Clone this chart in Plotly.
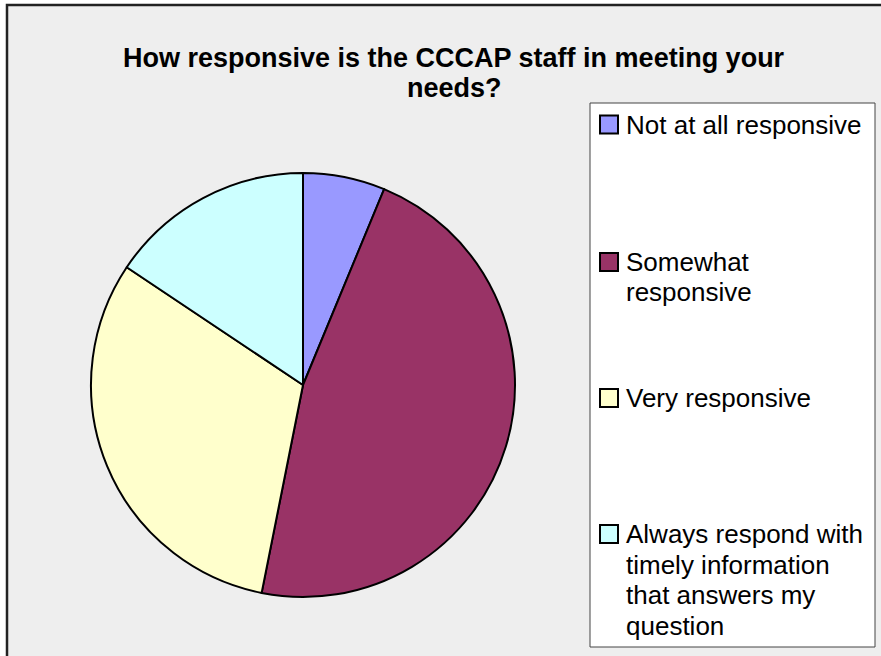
import plotly.graph_objects as go

# ---- data ----
categories = [
    "Not at all responsive",
    "Somewhat responsive",
    "Very responsive",
    "Always respond with timely information that answers my question",
]
counts = [4, 30, 20, 10]
legend_lines = [
    ["Not at all responsive"],
    ["Somewhat", "responsive"],
    ["Very responsive"],
    ["Always respond with", "timely information", "that answers my", "question"],
]
title_lines = ["How responsive is the CCCAP staff in meeting your", "needs?"]

# ---- style ----
slice_colors = ["#9999FF", "#993366", "#FFFFCC", "#CCFFFF"]
W, H = 881, 656
FONT = "Liberation Sans, Arial, sans-serif"


def px(x):
    return x / W


def py(y):
    return 1 - y / H


cx, cy, r = 303, 385, 212

fig = go.Figure(
    go.Pie(
        labels=categories,
        values=counts,
        sort=False,
        direction="clockwise",
        rotation=0,
        marker=dict(colors=slice_colors, line=dict(color="#000000", width=2)),
        textinfo="none",
        hoverinfo="label+percent",
        showlegend=False,
        domain=dict(x=[px(cx - r), px(cx + r)], y=[py(cy + r), py(cy - r)]),
    )
)

shapes = []
# chart area
shapes.append(dict(type="rect", xref="paper", yref="paper", layer="below",
                   x0=px(7), x1=px(W + 20), y0=py(H + 20), y1=py(5),
                   fillcolor="#EEEEEE", line=dict(color="#222222", width=2.5)))
# legend box
shapes.append(dict(type="rect", xref="paper", yref="paper", layer="below",
                   x0=px(590), x1=px(875), y0=py(647), y1=py(103),
                   fillcolor="#FFFFFF", line=dict(color="#444444", width=1)))

annotations = []
# title
for i, t in enumerate(title_lines):
    annotations.append(dict(text="<b>%s</b>" % t, xref="paper", yref="paper",
                            x=px(454), y=py(57.5 + 30 * i), xanchor="center", yanchor="middle",
                            showarrow=False, font=dict(family=FONT, size=27, color="#000000")))

item_first_y = [124.5, 262, 398, 534]
line_gap = 30.5
for k, lines in enumerate(legend_lines):
    y0 = item_first_y[k]
    shapes.append(dict(type="rect", xref="paper", yref="paper",
                       x0=px(600), x1=px(618), y0=py(y0 + 9), y1=py(y0 - 9),
                       fillcolor=slice_colors[k], line=dict(color="#000000", width=2)))
    for j, ln in enumerate(lines):
        annotations.append(dict(text=ln, xref="paper", yref="paper",
                                x=px(624), y=py(y0 + line_gap * j), xanchor="left", yanchor="middle",
                                showarrow=False, font=dict(family=FONT, size=26, color="#000000")))

fig.update_layout(
    width=W, height=H,
    margin=dict(l=0, r=0, t=0, b=0),
    paper_bgcolor="#FFFFFF",
    plot_bgcolor="#FFFFFF",
    shapes=shapes,
    annotations=annotations,
)

fig.write_html("out.html", config={"displayModeBar": False},
               post_script="document.body.style.margin='0';")
